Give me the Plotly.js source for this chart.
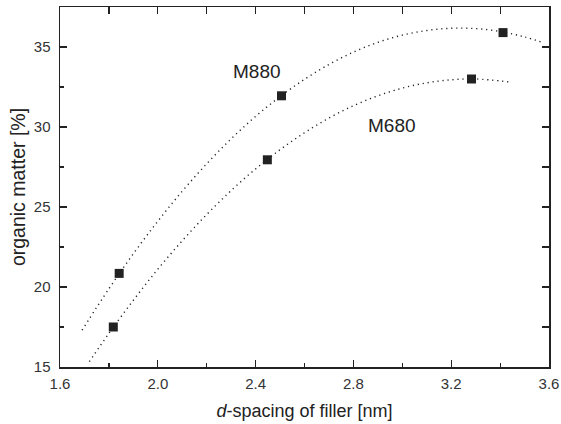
<!DOCTYPE html>
<html>
<head>
<meta charset="utf-8">
<script src="https://cdn.plot.ly/plotly-3.0.1.min.js"></script>
<style>html,body{margin:0;padding:0;background:#fff;}#chart{width:561px;height:424px;}</style>
</head>
<body>
<div id="chart"></div>
<script>
// Measured points
const m880_x = [1.842, 2.506, 3.412];
const m880_y = [20.85, 31.95, 35.9];
const m680_x = [1.818, 2.448, 3.283];
const m680_y = [17.5, 27.95, 33.0];

// Dotted fit curves
const fit880_x = [1.69, 1.8, 1.9, 2.0, 2.1, 2.2, 2.3, 2.4, 2.5, 2.6, 2.7, 2.8, 2.9, 3.0, 3.1, 3.2, 3.3, 3.4, 3.5, 3.58];
const fit880_y = [17.30, 19.89, 22.08, 24.11, 25.99, 27.70, 29.26, 30.66, 31.90, 32.98, 33.91, 34.68, 35.29, 35.74, 36.03, 36.17, 36.15, 35.97, 35.63, 35.25];
const fit680_x = [1.72, 1.8, 1.9, 2.0, 2.1, 2.2, 2.3, 2.4, 2.5, 2.6, 2.7, 2.8, 2.9, 3.0, 3.1, 3.2, 3.3, 3.44];
const fit680_y = [15.33, 17.10, 19.17, 21.11, 22.89, 24.53, 26.03, 27.38, 28.58, 29.64, 30.56, 31.33, 31.95, 32.43, 32.76, 32.95, 33.00, 32.81];

const xTickVals = [1.6, 2.0, 2.4, 2.8, 3.2, 3.6];
const xTickText = ["1.6", "2.0", "2.4", "2.8", "3.2", "3.6"];
const yTickVals = [15, 20, 25, 30, 35];
const yTickText = ["15", "20", "25", "30", "35"];
const labels = ["M880", "M680"];
const labelX = [2.405, 2.958];
const labelY = [33.5, 30.1];

const ink = '#222';
const font = 'Liberation Sans, Arial, Helvetica, sans-serif';
const dotLine = {color: ink, width: 1.4, dash: '1.2px,3.8px'};
const mk = {symbol: 'square', size: 9, color: ink};

const traces = [
  {x: fit880_x, y: fit880_y, mode: 'lines', line: Object.assign({shape: 'spline'}, dotLine), hoverinfo: 'skip'},
  {x: fit680_x, y: fit680_y, mode: 'lines', line: Object.assign({shape: 'spline'}, dotLine), hoverinfo: 'skip'},
  {x: m880_x, y: m880_y, mode: 'markers', marker: mk},
  {x: m680_x, y: m680_y, mode: 'markers', marker: mk},
  {x: [1.6], y: [15], xaxis: 'x2', yaxis: 'y2', mode: 'markers', marker: {opacity: 0}, hoverinfo: 'skip'}
];

const axCommon = {showgrid: false, zeroline: false, showline: true, linecolor: ink, linewidth: 1.5,
  ticks: 'inside', ticklen: 7, tickwidth: 1.2, tickcolor: ink};

const layout = {
  width: 561, height: 424,
  margin: {l: 60, r: 12, t: 7, b: 57},
  paper_bgcolor: '#fff', plot_bgcolor: '#fff',
  showlegend: false,
  font: {family: font, color: ink},
  xaxis: Object.assign({}, axCommon, {
    range: [1.6, 3.6], tickvals: xTickVals, ticktext: xTickText,
    tickfont: {size: 15, color: '#333'}, ticklabelstandoff: 2,
    minor: {dtick: 0.2, tick0: 1.6, ticks: 'inside', ticklen: 4, tickwidth: 1.2, tickcolor: ink, showgrid: false},
    title: {text: '<i>d</i>-spacing of filler [nm]', font: {size: 18, color: ink}, standoff: 14}
  }),
  yaxis: Object.assign({}, axCommon, {
    range: [15, 37.5], tickvals: yTickVals, ticktext: yTickText,
    tickfont: {size: 15, color: '#333'}, ticklabelstandoff: 5,
    minor: {dtick: 2.5, tick0: 15, ticks: 'inside', ticklen: 4, tickwidth: 1.2, tickcolor: ink, showgrid: false},
    title: {text: 'organic matter [%]', font: {size: 19.5, color: ink}, standoff: 3}
  }),
  xaxis2: Object.assign({}, axCommon, {overlaying: 'x', side: 'top', range: [1.6, 3.6], dtick: 0.2, tick0: 1.6, showticklabels: false}),
  yaxis2: Object.assign({}, axCommon, {overlaying: 'y', side: 'right', range: [15, 37.5], dtick: 2.5, tick0: 15, showticklabels: false}),
  annotations: labels.map((t, i) => ({x: labelX[i], y: labelY[i], xref: 'x', yref: 'y', text: t, showarrow: false,
    font: {size: 19, color: ink, family: font}}))
};

Plotly.newPlot('chart', traces, layout, {displayModeBar: false, staticPlot: true});
</script>
</body>
</html>
